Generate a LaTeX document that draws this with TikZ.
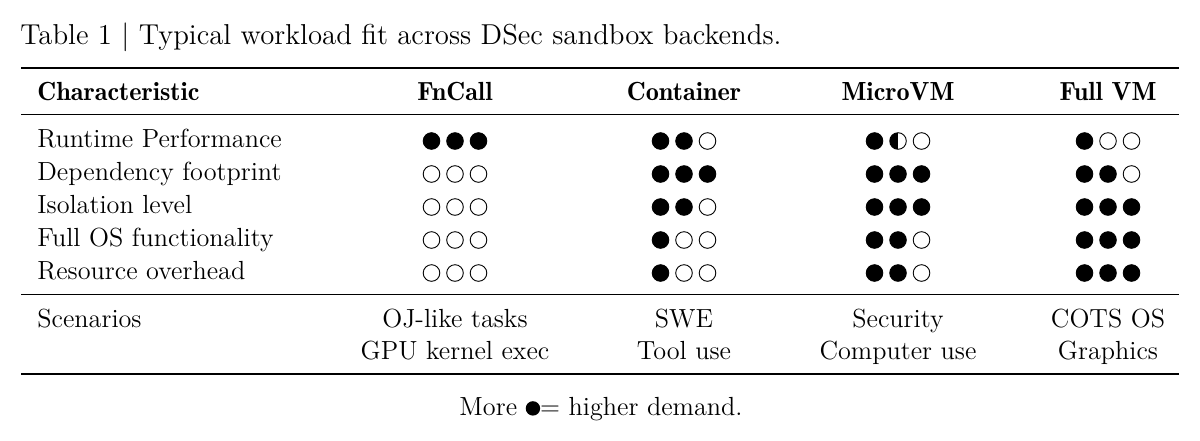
\documentclass[tikz,border=0pt]{standalone}
\begin{document}
\begin{tikzpicture}[x=0.5pt,y=-0.5pt,
  txt/.style={inner sep=0pt,font=\fontsize{13.1}{15}\selectfont},
  ttl/.style={inner sep=0pt,font=\fontsize{14.4}{17}\selectfont},
  hdr/.style={inner sep=0pt,font=\fontsize{13.1}{15}\selectfont\fontseries{b}\selectfont},
  dotf/.style={draw=black,fill=black,line width=0.45pt},
  doto/.style={draw=black,fill=white,line width=0.45pt},
  doth/.style={draw=black,line width=0.45pt,path picture={\fill[black] (path picture bounding box.south west) rectangle (path picture bounding box.north);}},
  heavyrule/.style={line width=0.9pt},
  lightrule/.style={line width=0.5pt}]
\useasboundingbox (0,0) rectangle (1200,440);
\newcommand\dotrow[5]{%
  \path[dot#3] (#1-23.5,#2) circle[radius=8.3];
  \path[dot#4] (#1,#2) circle[radius=8.3];
  \path[dot#5] (#1+23.5,#2) circle[radius=8.3];}
% title
\node[ttl,anchor=base west] (title) at (20,44) {Table 1 | Typical workload fit across DSec sandbox backends.};
% rules
\coordinate (r1a) at (21,68);  \coordinate (r1b) at (1179,68);
\coordinate (r2a) at (21,114.5); \coordinate (r2b) at (1179,114.5);
\coordinate (r3a) at (21,294); \coordinate (r3b) at (1179,294);
\coordinate (r4a) at (21,374); \coordinate (r4b) at (1179,374);
\draw[heavyrule] (r1a) -- (r1b);
\draw[lightrule] (r2a) -- (r2b);
\draw[lightrule] (r3a) -- (r3b);
\draw[heavyrule] (r4a) -- (r4b);
% header
\node[hdr,anchor=base west] (hchar) at (37,100) {Characteristic};
\node[hdr,anchor=base] (hfn) at (455,100) {FnCall};
\node[hdr,anchor=base] (hcon) at (684,100) {Container};
\node[hdr,anchor=base] (hmic) at (898,100) {MicroVM};
\node[hdr,anchor=base] (hfull) at (1108,100) {Full VM};
% rows
\node[txt,anchor=base west] (l1) at (37,147) {Runtime Performance};
\node[txt,anchor=base west] (l2) at (37,180) {Dependency footprint};
\node[txt,anchor=base west] (l3) at (37,213) {Isolation level};
\node[txt,anchor=base west] (l4) at (37,246) {Full OS functionality};
\node[txt,anchor=base west] (l5) at (37,279) {Resource overhead};
% dots
\dotrow{455}{141}{f}{f}{f}
\dotrow{684}{141}{f}{f}{o}
\dotrow{898}{141}{f}{h}{o}
\dotrow{1108}{141}{f}{o}{o}
\dotrow{455}{174}{o}{o}{o}
\dotrow{684}{174}{f}{f}{f}
\dotrow{898}{174}{f}{f}{f}
\dotrow{1108}{174}{f}{f}{o}
\dotrow{455}{207}{o}{o}{o}
\dotrow{684}{207}{f}{f}{o}
\dotrow{898}{207}{f}{f}{f}
\dotrow{1108}{207}{f}{f}{f}
\dotrow{455}{240}{o}{o}{o}
\dotrow{684}{240}{f}{o}{o}
\dotrow{898}{240}{f}{f}{o}
\dotrow{1108}{240}{f}{f}{f}
\dotrow{455}{273}{o}{o}{o}
\dotrow{684}{273}{f}{o}{o}
\dotrow{898}{273}{f}{f}{o}
\dotrow{1108}{273}{f}{f}{f}
% scenarios
\node[txt,anchor=base west] (sc) at (37,327) {Scenarios};
\node[txt,anchor=base] (s1a) at (455,327) {OJ-like tasks};
\node[txt,anchor=base] (s1b) at (455,359) {GPU kernel exec};
\node[txt,anchor=base] (s2a) at (684,327) {SWE};
\node[txt,anchor=base] (s2b) at (684,359) {Tool use};
\node[txt,anchor=base] (s3a) at (898,327) {Security};
\node[txt,anchor=base] (s3b) at (898,359) {Computer use};
\node[txt,anchor=base] (s4a) at (1108,327) {COTS OS};
\node[txt,anchor=base] (s4b) at (1108,359) {Graphics};
% caption
\node[txt,anchor=base] (cap) at (601,415) {More \tikz[baseline=-3.3pt]\fill[black] (0,0) circle (3.6pt);= higher demand.};
\end{tikzpicture}
\end{document}
